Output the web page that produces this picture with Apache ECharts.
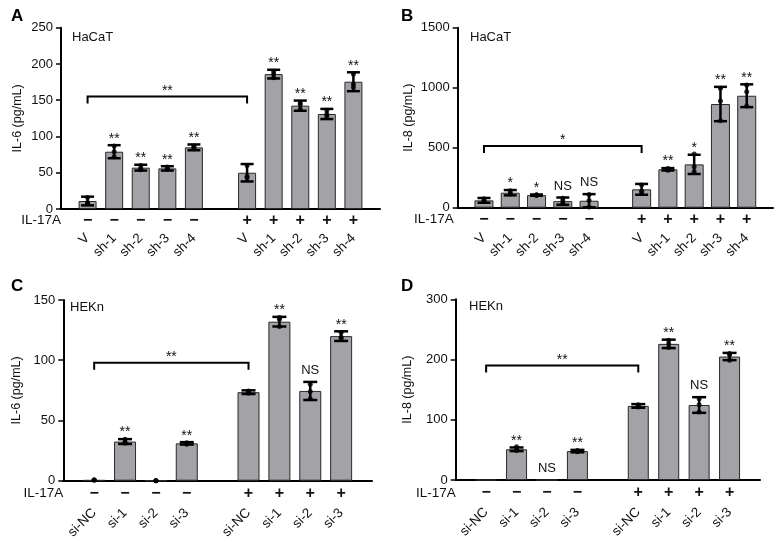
<!DOCTYPE html>
<html><head><meta charset="utf-8">
<script src="https://cdn.jsdelivr.net/npm/echarts@6/dist/echarts.min.js"></script>
<style>html,body{margin:0;padding:0;background:#fff}#c{width:781px;height:542px}</style>
</head><body><div id="c"></div>
<script>
// ---------- data ----------
const hacatGroups = ['V','sh-1','sh-2','sh-3','sh-4','V','sh-1','sh-2','sh-3','sh-4'];
const hacatIL17A  = ['\u2212','\u2212','\u2212','\u2212','\u2212','+','+','+','+','+'];
const hekGroups   = ['si-NC','si-1','si-2','si-3','si-NC','si-1','si-2','si-3'];
const hekIL17A    = ['\u2212','\u2212','\u2212','\u2212','+','+','+','+'];

const il6HaCaTMean = [11,79,57,56,85,50,186,142.5,131,175.5];
const il6HaCaTSd   = [6,9,4,3,4,12,6,7,7,13];
const il6HaCaTDots = [[16,9,8],[87,79,72],[60,56,54],[58,55,55],[87,85,83],[60,45,43],[190,186,181],[146,144,138],[136,131,128],[186,172,168]];
const il6HaCaTSig  = ['','**','**','**','**','','**','**','**','**'];
const il6HaCaTBracket = [155,'**'];

const il8HaCaTMean = [61,125,105,55,58,153,320,361,864,933];
const il8HaCaTSd   = [20,22,5,30,55,45,10,80,143,95];
const il8HaCaTDots = [[75,58,52],[142,118,115],[108,105,102],[78,55,35],[110,60,5],[190,140,130],[327,320,313],[447,342,300],[995,890,725],[1022,967,848]];
const il8HaCaTSig  = ['','*','*','NS','NS','','**','*','**','**'];
const il8HaCaTBracket = [514,'*'];

const il6HEKnMean = [0.5,32.5,0,31,73.5,132,74.5,120];
const il6HEKnSd   = [0,2,0,1,1.5,4,7.5,4];
const il6HEKnDots = [[0.5,0.5,0.5],[34.5,32,31],[0,0,0],[31.5,30.5,30.5],[74.5,73.5,72.5],[135.5,134,128],[80,74,68],[123,119,118]];
const il6HEKnSig  = ['','**','','**','','**','NS','**'];
const il6HEKnBracket = [98,'**'];

const il8HEKnMean = [0,51,0,48,123,226,124.5,205];
const il8HEKnSd   = [0,3,0,2,3,7,13,6];
const il8HEKnDots = [[],[55,50,49],[],[49,48,47],[125,123,121],[232,226,220],[135,125,113],[210,208,199]];
const il8HEKnSig  = ['','**','NS','**','','**','NS','**'];
const il8HEKnBracket = [190,'**'];

// ---------- layout ----------
const FF = '"Liberation Sans", Arial, Helvetica, sans-serif';
const panels = [
  {letter:'A', cell:'HaCaT', yName:'IL-6 (pg/mL)', groups:hacatGroups, signs:hacatIL17A,
   mean:il6HaCaTMean, sd:il6HaCaTSd, dots:il6HaCaTDots, sig:il6HaCaTSig, bracket:il6HaCaTBracket,
   max:250, interval:50, grid:{left:61, top:27.7, width:319, height:181.3},
   barWidth:18, cap:13, letterPos:[11,7.5], cellPos:[72,31], nameGap:37, ilGap:0, signOff:11.5, lblMargin:27},
  {letter:'B', cell:'HaCaT', yName:'IL-8 (pg/mL)', groups:hacatGroups, signs:hacatIL17A,
   mean:il8HaCaTMean, sd:il8HaCaTSd, dots:il8HaCaTDots, sig:il8HaCaTSig, bracket:il8HaCaTBracket,
   max:1500, interval:500, grid:{left:457.7, top:27.7, width:315.3, height:180},
   barWidth:19, cap:13, letterPos:[401,7.5], cellPos:[470,31], nameGap:43, ilGap:4, signOff:12, lblMargin:28},
  {letter:'C', cell:'HEKn', yName:'IL-6 (pg/mL)', groups:hekGroups, signs:hekIL17A,
   mean:il6HEKnMean, sd:il6HEKnSd, dots:il6HEKnDots, sig:il6HEKnSig, bracket:il6HEKnBracket,
   max:150, interval:50, grid:{left:63.3, top:300, width:308.7, height:180.7},
   barWidth:22, cap:14, letterPos:[11,277.5], cellPos:[70,301], nameGap:40, ilGap:0, signOff:13, lblMargin:30},
  {letter:'D', cell:'HEKn', yName:'IL-8 (pg/mL)', groups:hekGroups, signs:hekIL17A,
   mean:il8HEKnMean, sd:il8HEKnSd, dots:il8HEKnDots, sig:il8HEKnSig, bracket:il8HEKnBracket,
   max:300, interval:100, grid:{left:455.7, top:299.3, width:304.3, height:180.7},
   barWidth:21, cap:14, letterPos:[401,277.5], cellPos:[469,300], nameGap:42, ilGap:0, signOff:13, lblMargin:30}
];

function sigOffset(lab) { return lab.indexOf('*') >= 0 ? 0.5 : -5; }

const grids=[], xAxes=[], yAxes=[], series=[], graphics=[];
panels.forEach((p, pi) => {
  const n = p.groups.length, half = n/2, total = n + 3;
  const slot = i => (i < half ? i + 1 : i + 2);
  const cats = new Array(total).fill(''), signCats = new Array(total).fill('');
  const barData = new Array(total).fill('-');
  p.groups.forEach((g,i) => { cats[slot(i)] = g; signCats[slot(i)] = p.signs[i]; barData[slot(i)] = p.mean[i]; });

  grids.push(Object.assign({containLabel:false}, p.grid));
  xAxes.push({type:'category', gridIndex:pi, data:cats, boundaryGap:false, position:'bottom',
    axisLine:{show:true, onZero:true, lineStyle:{color:'#000', width:2}}, axisTick:{show:false},
    axisLabel:{interval:0, rotate:45, margin:p.lblMargin, fontSize:13.5, color:'#111', fontFamily:FF},
    splitLine:{show:false}});
  xAxes.push({type:'category', gridIndex:pi, data:signCats, boundaryGap:false, position:'bottom', offset:p.signOff,
    axisLine:{show:false, onZero:false}, axisTick:{show:false},
    axisLabel:{interval:0, margin:0, verticalAlign:'middle', fontSize:16, fontWeight:'bold', color:'#111', fontFamily:FF},
    name:'IL-17A', nameLocation:'start', nameGap:p.ilGap, nameMoveOverlap:false,
    nameTextStyle:{fontSize:13.5, color:'#111', fontFamily:FF, verticalAlign:'middle', align:'right'},
    splitLine:{show:false}});
  yAxes.push({type:'value', gridIndex:pi, min:0, max:p.max, interval:p.interval,
    name:p.yName, nameLocation:'middle', nameGap:p.nameGap, nameMoveOverlap:false,
    nameTextStyle:{fontSize:12.5, color:'#111', fontFamily:FF},
    axisLine:{show:true, lineStyle:{color:'#000', width:2}},
    axisTick:{show:true, inside:false, length:5, lineStyle:{color:'#000', width:1.5}},
    axisLabel:{fontSize:13, color:'#111', margin:8, fontFamily:FF, formatter:v => String(v)},
    splitLine:{show:false}});

  const xi = pi*2;
  series.push({type:'bar', xAxisIndex:xi, yAxisIndex:pi, data:barData, barWidth:p.barWidth,
    itemStyle:{color:'#a2a2a7', borderColor:'#2a2a2a', borderWidth:1}, z:2, silent:true});

  const errData = p.groups.map((g,i) => [slot(i), p.mean[i], p.sd[i]]);
  series.push({type:'custom', xAxisIndex:xi, yAxisIndex:pi, data:errData, z:4, silent:true, clip:false,
    encode:{x:0, y:1},
    renderItem:(params, api) => {
      const i = params.dataIndex;
      const x = api.value(0), m = api.value(1), s = api.value(2);
      const top = api.coord([x, m + s]);
      const bot = api.coord([x, Math.max(m - s, 0)]);
      const hw = p.cap/2, st = {stroke:'#000', lineWidth:2.5};
      const ch = [];
      if (s > 0) {
        ch.push({type:'line', shape:{x1:top[0], y1:top[1], x2:bot[0], y2:bot[1]}, style:st});
        ch.push({type:'line', shape:{x1:top[0]-hw, y1:top[1], x2:top[0]+hw, y2:top[1]}, style:st});
        ch.push({type:'line', shape:{x1:bot[0]-hw, y1:bot[1], x2:bot[0]+hw, y2:bot[1]}, style:st});
      }
      const lab = p.sig[i];
      if (lab) ch.push({type:'text', style:{text:lab, x:top[0], y:top[1] + sigOffset(lab), align:'center',
        verticalAlign:'bottom', fill:'#111', font:(lab.indexOf('*')>=0 ? '14px ' : '13px ') + FF}});
      return {type:'group', children:ch};
    }});

  const dotData = [];
  p.groups.forEach((g,i) => (p.dots[i] || []).forEach(v => dotData.push([slot(i), v])));
  series.push({type:'scatter', xAxisIndex:xi, yAxisIndex:pi, data:dotData, symbolSize:5,
    itemStyle:{color:'#000'}, z:5, silent:true});

  series.push({type:'custom', xAxisIndex:xi, yAxisIndex:pi, data:[[slot(0), slot(half), p.bracket[0]]],
    z:4, silent:true, clip:false, encode:{x:0, y:2},
    renderItem:(params, api) => {
      const a = api.coord([api.value(0), api.value(2)]);
      const b = api.coord([api.value(1), api.value(2)]);
      return {type:'group', children:[
        {type:'polyline', shape:{points:[[a[0], a[1]+7],[a[0], a[1]],[b[0], b[1]],[b[0], b[1]+7]]},
         style:{stroke:'#000', lineWidth:2, fill:null}},
        {type:'text', style:{text:p.bracket[1], x:(a[0]+b[0])/2, y:a[1]+1.5, align:'center', verticalAlign:'bottom',
         fill:'#111', font:'14px ' + FF}}
      ]};
    }});

  graphics.push({type:'text', left:p.letterPos[0], top:p.letterPos[1],
    style:{text:p.letter, font:'bold 17px ' + FF, fill:'#000'}});
  graphics.push({type:'text', left:p.cellPos[0], top:p.cellPos[1],
    style:{text:p.cell, font:'13px ' + FF, fill:'#111'}});
});

const chart = echarts.init(document.getElementById('c'), null, {renderer:'canvas'});
chart.setOption({animation:false, backgroundColor:'#fff', grid:grids, xAxis:xAxes, yAxis:yAxes,
  series:series, graphic:graphics});
</script></body></html>
